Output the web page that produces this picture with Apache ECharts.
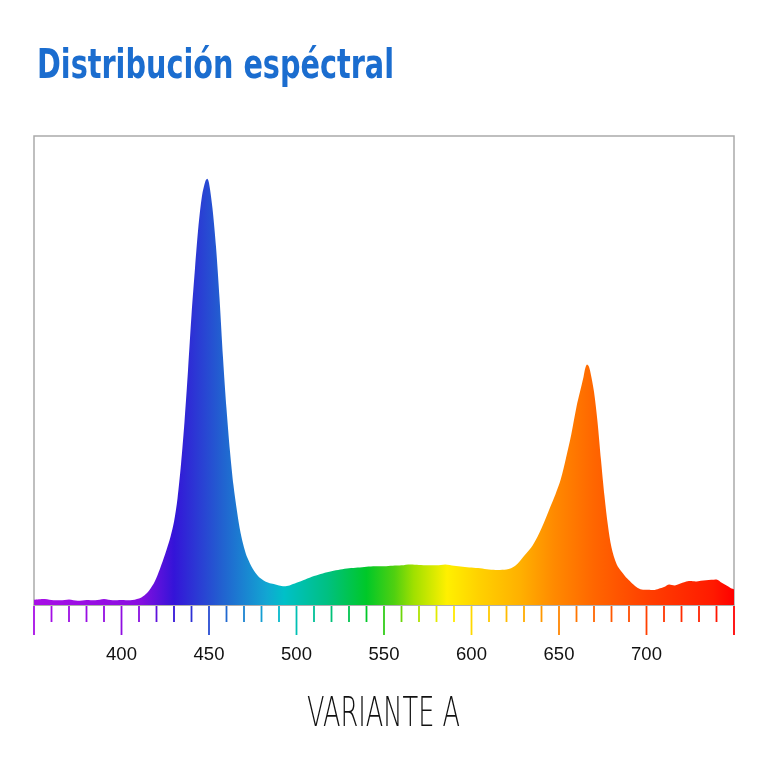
<!DOCTYPE html>
<html>
<head>
<meta charset="utf-8">
<script src="https://cdn.jsdelivr.net/npm/echarts@6/dist/echarts.min.js"></script>
<style>
  html, body { margin: 0; padding: 0; background: #fff; }
  #chart { width: 768px; height: 768px; }
</style>
</head>
<body>
<div id="chart"></div>
<script>
// wavelength (nm) and relative intensity
const wavelengths = [
  350, 355, 360, 365, 370, 375, 380, 385, 390, 395, 400, 405, 410, 413, 416, 419,
  422, 425, 428, 430, 432, 434, 436, 438, 440, 442, 444, 446, 448, 449, 450, 452,
  454, 456, 458, 460, 462, 464, 466, 468, 470, 472, 475, 478, 481, 484, 487, 490,
  493, 496, 500, 505, 510, 515, 520, 525, 530, 535, 540, 545, 550, 555, 560, 565,
  570, 575, 580, 585, 590, 595, 600, 605, 610, 615, 620, 625, 630, 635, 640, 645,
  648, 651, 654, 657, 660, 662, 664, 665, 666, 667, 668, 670, 672, 674, 676, 678, 680, 683,
  686, 689, 692, 695, 698, 701, 704, 707, 710, 713, 716, 719, 722, 725, 728, 731,
  734, 737, 740, 743, 746, 748, 750
];
const intensity = [
  0.012, 0.014, 0.012, 0.011, 0.013, 0.010, 0.012, 0.011, 0.014, 0.011, 0.012, 0.011, 0.015, 0.022, 0.035, 0.055,
  0.085, 0.12, 0.16, 0.195, 0.25, 0.33, 0.43, 0.55, 0.68, 0.79, 0.89, 0.96, 0.995, 1.0, 0.99, 0.93,
  0.84, 0.72, 0.58, 0.46, 0.36, 0.28, 0.22, 0.17, 0.135, 0.11, 0.085, 0.068, 0.058, 0.052, 0.049, 0.046,
  0.044, 0.046, 0.052, 0.060, 0.068, 0.074, 0.079, 0.083, 0.086, 0.088, 0.090, 0.091, 0.091, 0.092, 0.093, 0.095,
  0.094, 0.093, 0.093, 0.095, 0.092, 0.090, 0.088, 0.086, 0.083, 0.082, 0.083, 0.092, 0.115, 0.14, 0.18, 0.23,
  0.26, 0.295, 0.345, 0.40, 0.465, 0.50, 0.535, 0.555, 0.564, 0.56, 0.545, 0.50, 0.43, 0.34, 0.255, 0.185, 0.135, 0.095,
  0.077, 0.062, 0.050, 0.040, 0.036, 0.036, 0.035, 0.038, 0.042, 0.048, 0.046, 0.050, 0.054, 0.056, 0.055, 0.057,
  0.058, 0.059, 0.060, 0.052, 0.045, 0.040, 0.037
];
const tickWavelengths = [];
for (let nm = 350; nm <= 750; nm += 10) tickWavelengths.push(nm);
const labelWavelengths = [400, 450, 500, 550, 600, 650, 700];

// colour of the spectrum at a few wavelengths
const paletteNm = [350, 410, 430, 457, 483, 493, 518, 540, 556, 567, 586, 605, 628, 647, 670, 700, 738, 750];
const paletteColor = ['#a80ee6', '#8a0ee0', '#3414d8', '#2260d0', '#12a6d2', '#00c0c8', '#00c080', '#00c828',
  '#50d010', '#a0e000', '#fff000', '#ffd000', '#ffb000', '#ff8a00', '#ff6600', '#ff4000', '#ff1a00', '#ff0000'];

function hexToRgb(h) {
  return [parseInt(h.slice(1, 3), 16), parseInt(h.slice(3, 5), 16), parseInt(h.slice(5, 7), 16)];
}
function colorAt(nm) {
  for (let i = 0; i < paletteNm.length - 1; i++) {
    if (nm <= paletteNm[i + 1]) {
      const t = (nm - paletteNm[i]) / (paletteNm[i + 1] - paletteNm[i]);
      const a = hexToRgb(paletteColor[i]), b = hexToRgb(paletteColor[i + 1]);
      const c = a.map((v, k) => Math.round(v + (b[k] - v) * t));
      return 'rgb(' + c.join(',') + ')';
    }
  }
  return paletteColor[paletteColor.length - 1];
}

const chart = echarts.init(document.getElementById('chart'));

const xMin = 350, xMax = 750;
const stops = paletteNm.map((nm, i) => ({ offset: (nm - xMin) / (xMax - xMin), color: paletteColor[i] }));

// squeeze text to a given width, the fonts here are wider than the original
function fitScale(text, font, target) {
  const ctx = document.createElement('canvas').getContext('2d');
  ctx.font = font;
  return target / ctx.measureText(text).width;
}
const titleFont = 'bold 41px "DejaVu Sans Condensed", "DejaVu Sans"';
const subFont = '200 40px "DejaVu Sans"';

const option = {
  animation: false,
  grid: {
    left: 34, right: 34, top: 136, bottom: 163,
    show: true, borderColor: '#aaaaaa', borderWidth: 1.5, backgroundColor: 'transparent'
  },
  xAxis: {
    type: 'value', min: xMin, max: xMax, interval: 10,
    axisLine: { show: true, lineStyle: { color: '#aaaaaa', width: 1.5 } },
    axisTick: { show: false },
    splitLine: { show: false },
    axisLabel: {
      margin: 40, fontSize: 18.5, color: '#111111', fontFamily: 'Liberation Sans',
      formatter: v => (labelWavelengths.indexOf(v) >= 0 ? String(v) : '')
    }
  },
  yAxis: { type: 'value', min: 0, max: 1.1, show: false },
  graphic: [
    {
      type: 'text', x: 37, y: 67, scaleX: fitScale('Distribución espéctral', titleFont, 357), originX: 0, originY: 0,
      style: { text: 'Distribución espéctral', font: titleFont, fill: '#1b6dcf', verticalAlign: 'middle' }
    },
    {
      type: 'text', x: 383.5, y: 716, scaleX: fitScale('VARIANTE A', subFont, 153),
      style: { text: 'VARIANTE A', font: subFont, fill: '#111111', align: 'center', verticalAlign: 'middle' }
    }
  ],
  series: [
    {
      type: 'line',
      data: wavelengths.map((nm, i) => [nm, intensity[i]]),
      symbol: 'none',
      smooth: 0.3,
      lineStyle: { width: 0 },
      areaStyle: {
        opacity: 1,
        color: new echarts.graphic.LinearGradient(0, 0, 1, 0, stops)
      },
      z: 2
    },
    {
      type: 'custom',
      data: tickWavelengths.map(nm => [nm, 0]),
      encode: { x: 0, y: 1 },
      clip: false,
      z: 3,
      renderItem: function (params, api) {
        const nm = api.value(0);
        const p = api.coord([nm, 0]);
        const len = nm % 50 === 0 ? 30 : 17;
        return {
          type: 'line',
          shape: { x1: p[0], y1: p[1] + 1, x2: p[0], y2: p[1] + len },
          style: { stroke: colorAt(nm), lineWidth: 1.8 }
        };
      }
    }
  ]
};

chart.setOption(option);
</script>
</body>
</html>
